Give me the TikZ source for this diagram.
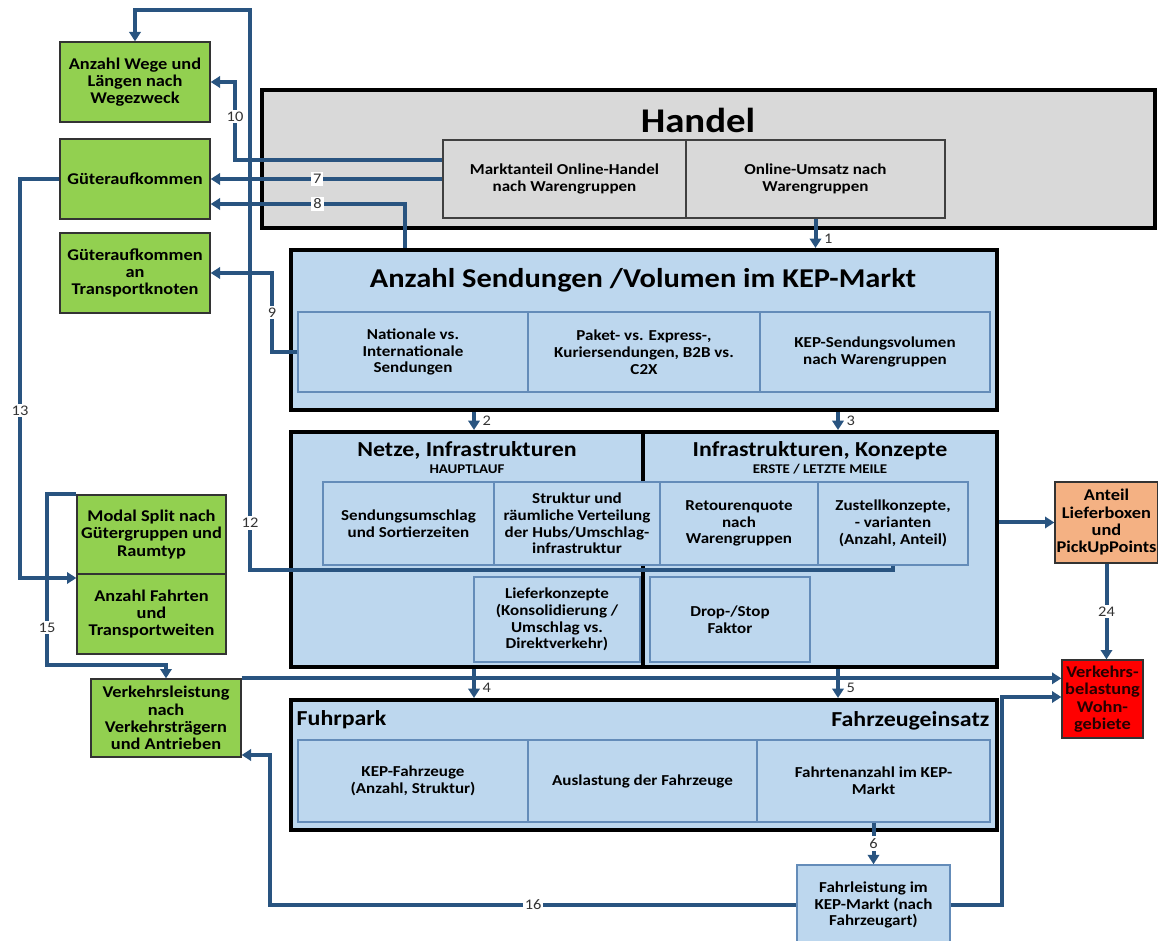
\documentclass[tikz,border=0pt]{standalone}
\usepackage{fontspec}
\setmainfont[FakeStretch=1.12]{Carlito}
\usetikzlibrary{arrows.meta}
\definecolor{greenfill}{HTML}{92D050}
\definecolor{grayfill}{HTML}{D9D9D9}
\definecolor{bluefill}{HTML}{BDD7EE}
\definecolor{blueline}{RGB}{100,140,185}
\definecolor{connblue}{RGB}{41,84,128}
\definecolor{orangefill}{HTML}{F4B183}

\begin{document}
\begin{tikzpicture}[x=0.75pt, y=-0.75pt,
    greenbox/.style = {draw=black!80, fill=greenfill, line width=1pt, align=center, inner sep=1pt,
        minimum width=112.5pt, minimum height=60pt, font=\bfseries\fontsize{12.3}{13}\selectfont},
    outer/.style = {draw=black, line width=3pt, fill=bluefill},
    inner/.style = {draw=blueline, line width=1.1pt, fill=bluefill, align=center, inner sep=1pt,
        minimum height=61pt, font=\bfseries\fontsize{11.4}{12.6}\selectfont},
    title/.style = {font=\bfseries\fontsize{20.4}{22}\selectfont},
    subtitle/.style = {font=\bfseries\fontsize{16}{17}\selectfont},
    caps/.style = {font=\bfseries\fontsize{10}{11}\selectfont},
    conn/.style = {draw=connblue, line width=3pt, -{Triangle[length=7pt,width=8.5pt]}},
    lbl/.style = {fill=white, inner sep=1.5pt, text=black!80, font=\fontsize{11}{12}\selectfont},
    num/.style = {inner sep=5pt, text=black!80, font=\fontsize{11}{12}\selectfont}]
    \useasboundingbox (0,0) rectangle (1158,941);

    \node[greenbox] (wege) at (135,82) {Anzahl Wege und\\Längen nach\\Wegezweck};
    \node[greenbox] (gueter) at (135,179) {Güteraufkommen};
    \node[greenbox] (knoten) at (135,273) {Güteraufkommen\\an\\Transportknoten};
    \node[greenbox, minimum width=111.75pt, minimum height=59.25pt] (modal) at (151.5,534.5) {Modal Split nach\\Gütergruppen und\\Raumtyp};
    \node[greenbox, minimum width=111.75pt] (fahrten) at (151.5,614) {Anzahl Fahrten\\und\\Transportweiten};
    \node[greenbox, minimum height=58.5pt] (vleist) at (166,718) {Verkehrsleistung\\nach\\Verkehrsträgern\\und Antrieben};

    \node[outer, fill=grayfill, minimum width=669.75pt, minimum height=103.5pt] (handel) at (708.5,159) {};
    \node[font=\bfseries\fontsize{26}{28}\selectfont] at (698,120) {Handel};
    \node[inner, draw=black!75, fill=grayfill, minimum width=182.25pt, minimum height=58.5pt] (markt) at (564.5,179) {Marktanteil Online-Handel\\nach Warengruppen};
    \node[inner, draw=black!75, fill=grayfill, minimum width=194.25pt, minimum height=58.5pt] (umsatz) at (815.5,179) {Online-Umsatz nach\\Warengruppen};

    \node[outer, minimum width=529.5pt, minimum height=120pt] (kep) at (644,330) {};
    \node[title] at (643,280) {Anzahl Sendungen /Volumen im KEP-Markt};
    \node[inner, minimum width=172.5pt, minimum height=60pt] (national) at (413,352) {Nationale vs.\\Internationale\\Sendungen};
    \node[inner, minimum width=174pt, minimum height=60pt] (paket) at (644,352) {Paket- vs. Express-,\\Kuriersendungen, B2B vs.\\C2X};
    \node[inner, minimum width=172.5pt, minimum height=60pt] (volumen) at (875,352) {KEP-Sendungsvolumen\\nach Warengruppen};

    \node[outer, minimum width=264pt, minimum height=176.25pt] (netze) at (467,549.5) {};
    \node[outer, minimum width=265.5pt, minimum height=176.25pt] (infra) at (820,549.5) {};
    \node[subtitle] at (467,450) {Netze, Infrastrukturen};
    \node[caps] at (467,469) {HAUPTLAUF};
    \node[subtitle] at (820,451) {Infrastrukturen, Konzepte};
    \node[caps] at (820,469) {ERSTE / LETZTE MEILE};
    \node[inner, minimum width=128.25pt, minimum height=62.25pt] (umschlag) at (408.5,523.5) {Sendungsumschlag\\und Sortierzeiten};
    \node[inner, minimum width=124.5pt, minimum height=62.25pt] (hubs) at (577,523.5) {Struktur und\\räumliche Verteilung\\der Hubs/Umschlag-\\infrastruktur};
    \node[inner, minimum width=118.5pt, minimum height=62.25pt] (retouren) at (739,523.5) {Retourenquote\\nach\\Warengruppen};
    \node[inner, minimum width=112.5pt, minimum height=62.25pt] (zustell) at (893,523.5) {Zustellkonzepte,\\- varianten\\(Anzahl, Anteil)};
    \node[inner, minimum width=124.5pt, minimum height=63.75pt] (liefer) at (557,619.5) {Lieferkonzepte\\(Konsolidierung /\\Umschlag vs.\\Direktverkehr)};
    \node[inner, minimum width=120pt, minimum height=63.75pt] (drop) at (730,619.5) {Drop-/Stop\\Faktor};

    \node[outer, minimum width=529.5pt, minimum height=97.5pt] (fuhrpark) at (644,765) {};
    \node[subtitle, anchor=west] at (292,720) {Fuhrpark};
    \node[subtitle, anchor=east] at (994,721) {Fahrzeugeinsatz};
    \node[inner, minimum width=172.5pt, minimum height=61.5pt] (kepfz) at (413,781) {KEP-Fahrzeuge\\(Anzahl, Struktur)};
    \node[inner, minimum width=171.75pt, minimum height=61.5pt] (auslast) at (642.5,781) {Auslastung der Fahrzeuge};
    \node[inner, minimum width=174.75pt, minimum height=61.5pt] (fahrtenanz) at (873.5,781) {Fahrtenanzahl im KEP-\\Markt};
    \node[inner, minimum width=114.75pt, minimum height=60pt] (fahrleist) at (873.5,905) {Fahrleistung im\\KEP-Markt (nach\\Fahrzeugart)};

    \node[greenbox, fill=orangefill, minimum width=77.25pt, minimum height=60.75pt] (anteil) at (1106.5,522.5) {Anteil\\Lieferboxen\\und\\PickUpPoints};
    \node[greenbox, fill=red, minimum width=60.75pt, minimum height=58.5pt, text=black!85!red] (vbel) at (1102.5,699) {Verkehrs-\\belastung\\Wohn-\\gebiete};

    \draw[conn] (umsatz.south) -- (umsatz.south |- kep.north) node[num, pos=0.7, right] {1};
    \draw[conn] (kep.south -| 474,0) -- (netze.north -| 474,0) node[num, midway, right] {2};
    \draw[conn] (kep.south -| 838,0) -- (infra.north -| 838,0) node[num, midway, right] {3};
    \draw[conn] (netze.south -| 474,0) -- (fuhrpark.north -| 474,0) node[num, pos=0.65, right] {4};
    \draw[conn] (infra.south -| 838,0) -- (fuhrpark.north -| 838,0) node[num, pos=0.65, right] {5};
    \draw[conn] (fahrtenanz.south) -- (fahrtenanz.south |- fahrleist.north) node[lbl, midway] {6};
    \draw[conn] (markt.west) -- node[lbl, pos=0.54] {7} (gueter.east);
    \draw[conn] (kep.north -| 405,0) |- node[lbl, pos=0.725] {8} (gueter.east |- 0,204);
    \draw[conn] (national.west) -- (272,352) |- node[lbl, pos=0.25] {9} (knoten.east);
    \draw[conn] (markt.west |- 0,160) -- (235,160) |- node[lbl, pos=0.28] {10} (wege.east);
    \draw[conn] (zustell.south) -- (zustell.south |- 0,570) -- (250,570) -- node[lbl, pos=0.084] {12} (250,10) -| (wege.north);
    \draw[conn] (gueter.west) -- (20,179) |- node[lbl, pos=0.29] {13} (fahrten.west |- 0,578);
    \draw[conn] (modal.north west) -| node[lbl, pos=0.89] {15} (47,665) -| (vleist.north);
    \draw[conn] (fahrleist.west) -- node[lbl, pos=0.5] {16} (270,905) |- (vleist.east |- 0,755);
    \draw[conn] (vleist.north east) -- (vbel.west |- vleist.north east);
    \draw[conn] (fahrleist.east) -- (1002,905) |- (vbel.west |- 0,697);
    \draw[conn] (infra.east |- anteil.west) -- (anteil.west);
    \draw[conn] (anteil.south) -- node[lbl, midway] {24} (anteil.south |- vbel.north);
\end{tikzpicture}
\end{document}
